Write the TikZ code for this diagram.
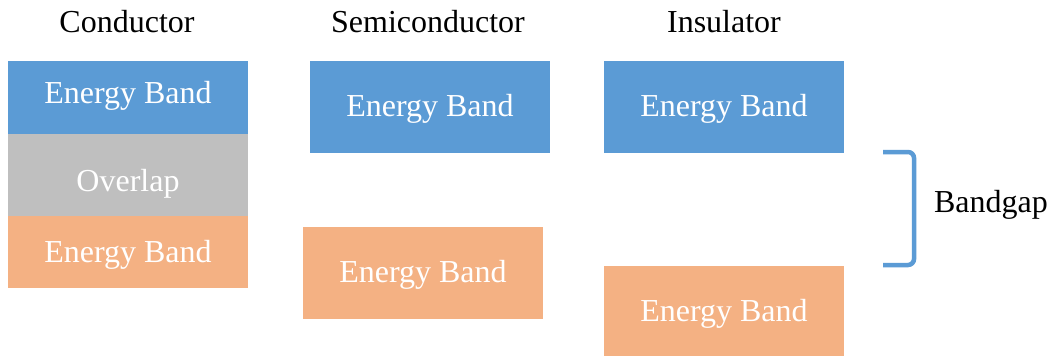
\documentclass[tikz,border=0pt]{standalone}
\usepackage{fontspec}
\setmainfont{Liberation Serif}
\newfontfamily\labelfont{Liberation Serif}
\definecolor{bandblue}{HTML}{5B9BD5}
\definecolor{bandorange}{HTML}{F4B183}
\definecolor{bandgray}{HTML}{BFBFBF}
\begin{document}
\begin{tikzpicture}[x=1pt,y=-1pt,
  band/.style={rectangle, inner sep=0pt, outer sep=0pt, anchor=north west, draw=none},
  bandtext/.style={anchor=base, text=white, inner sep=0pt, font=\labelfont\fontsize{32}{38}\selectfont},
  title/.style={anchor=base, inner sep=0pt, font=\labelfont\fontsize{32}{38}\selectfont}]
\useasboundingbox[fill=white] (0,0) rectangle (1052,356);

% column titles
\node[title] (tcond) at (127,32) {Conductor};
\node[title] (tsemi) at (428,32) {Semiconductor};
\node[title] (tins)  at (724,32) {Insulator};

% conductor: bands meet in an overlap region
\node[band, fill=bandblue,   minimum width=240pt, minimum height=73pt] (cup)  at (8,61)  {};
\node[band, fill=bandgray,   minimum width=240pt, minimum height=82pt] (cov)  at (8,134) {};
\node[band, fill=bandorange, minimum width=240pt, minimum height=72pt] (clow) at (8,216) {};
\node[bandtext] (cupt)  at (128,103) {Energy Band};
\node[bandtext] (covt)  at (128,191) {Overlap};
\node[bandtext] (clowt) at (128,262) {Energy Band};

% semiconductor: small gap
\node[band, fill=bandblue,   minimum width=240pt, minimum height=92pt] (sup)  at (310,61)  {};
\node[band, fill=bandorange, minimum width=240pt, minimum height=92pt] (slow) at (303,227) {};
\node[bandtext] (supt)  at (430,116) {Energy Band};
\node[bandtext] (slowt) at (423,282) {Energy Band};

% insulator: wide gap
\node[band, fill=bandblue,   minimum width=240pt, minimum height=92pt] (iup)  at (604,61)  {};
\node[band, fill=bandorange, minimum width=240pt, minimum height=90pt] (ilow) at (604,266) {};
\node[bandtext] (iupt)  at (724,116) {Energy Band};
\node[bandtext] (ilowt) at (724,321) {Energy Band};

% bracket marking the gap
\coordinate (bt) at (883,152);
\coordinate (bb) at (883,265);
\draw[bandblue, line width=4.5pt, rounded corners=6pt]
  (bt) -- (914,152) -- (914,265) -- (bb);
\node[title] (gap) at (991,212) {Bandgap};
\end{tikzpicture}
\end{document}
